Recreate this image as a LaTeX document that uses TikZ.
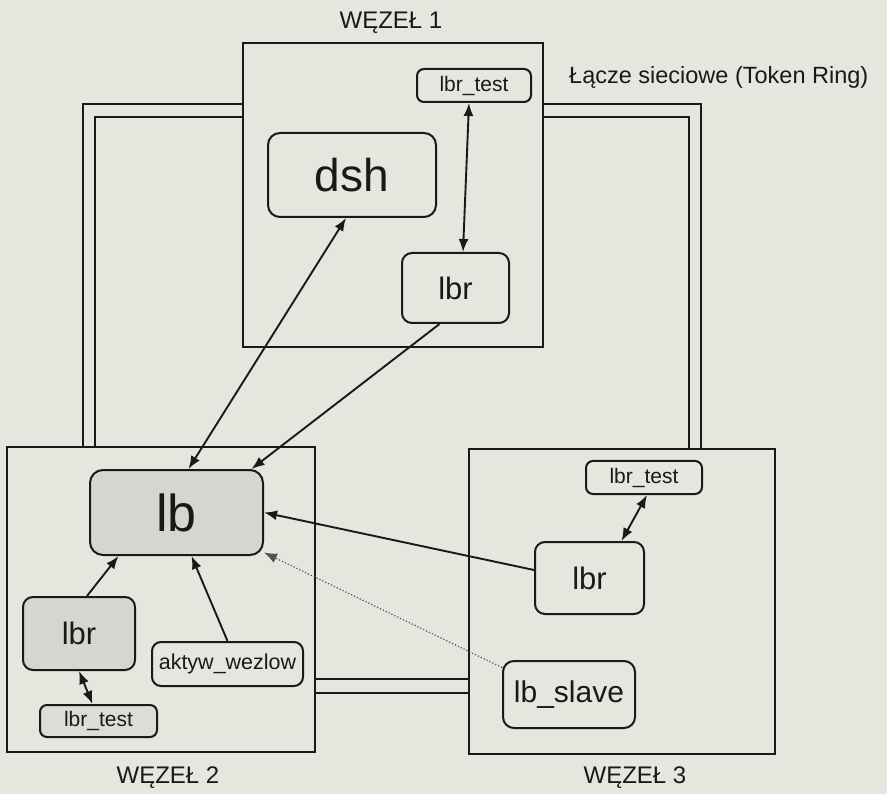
\documentclass[tikz,border=0pt]{standalone}
\usepackage{fontspec}
\setmainfont{Liberation Sans}
\usetikzlibrary{arrows.meta}
\definecolor{paper}{RGB}{227,231,221}
\definecolor{ink}{RGB}{24,26,24}
\definecolor{halftone}{RGB}{212,215,207}
\definecolor{halftonelight}{RGB}{219,222,214}
\newcommand{\fsz}[1]{\fontsize{#1}{#1}\selectfont}
\begin{document}
\begin{tikzpicture}[x=1pt,y=-1pt,
  proc/.style={draw=ink, line width=2pt, rounded corners=9pt, inner sep=0pt, text=ink},
  host/.style={draw=ink, line width=2pt, inner sep=0pt},
  link/.style={draw=ink, line width=1.9pt},
  arr/.style={draw=ink, line width=1.9pt, -{Latex[length=13pt,width=10pt]}},
  barr/.style={draw=ink, line width=1.9pt, {Latex[length=13pt,width=10pt]}-{Latex[length=13pt,width=10pt]}},
  dotarr/.style={draw=ink!75, line width=1.2pt, dotted, -{Latex[length=13pt,width=10pt]}},
  lbl/.style={text=ink, inner sep=0pt}]
\fill[paper] (0,0) rectangle (887,794);
\useasboundingbox (0,0) rectangle (887,794);

% host boxes
\node[host, minimum width=300pt, minimum height=304pt] (n1) at (393,195) {};
\node[host, minimum width=308pt, minimum height=305pt] (n2) at (161,599.5) {};
\node[host, minimum width=306pt, minimum height=305pt] (n3) at (622,601.5) {};

% labels
\node[lbl, font=\fsz{24}] (w1) at (391,23) {WĘZEŁ 1};
\node[lbl, font=\fsz{24}] (w2) at (168,778) {WĘZEŁ 2};
\node[lbl, font=\fsz{24}] (w3) at (635,778) {WĘZEŁ 3};
\node[lbl, font=\fsz{23.5}, anchor=base west] (ring) at (569,84) {Łącze sieciowe (Token Ring)};

% network link (double lines)
\draw[link] (n1.west |- 0,104) -- (83,104) -- (n2.north -| 83,0);
\draw[link] (n1.west |- 0,117) -- (95,117) -- (n2.north -| 95,0);
\draw[link] (n1.east |- 0,104) -- (701,104) -- (n3.north -| 701,0);
\draw[link] (n1.east |- 0,117) -- (689,117) -- (n3.north -| 689,0);
\draw[link] (n2.east |- 0,679) -- (n3.west |- 0,679);
\draw[link] (n2.east |- 0,693) -- (n3.west |- 0,693);

% node 1 processes
\node[proc, rounded corners=7pt, minimum width=114pt, minimum height=33pt, font=\fsz{21}] (lbrtA) at (474,85.5) {lbr\_test};
\node[proc, rounded corners=12pt, minimum width=168pt, minimum height=84pt, font=\fsz{46}] (dsh) at (352,175) {dsh};
\node[proc, rounded corners=10pt, minimum width=107pt, minimum height=70pt, font=\fsz{31}] (lbrA) at (455.5,288) {lbr};

% node 2 processes
\node[proc, fill=halftone, rounded corners=13pt, minimum width=173pt, minimum height=85pt, font=\fsz{52}] (lb) at (176.5,512.5) {lb};
\node[proc, fill=halftone, rounded corners=10pt, minimum width=112pt, minimum height=73pt, font=\fsz{31}] (lbrB) at (79,633.5) {lbr};
\node[proc, fill=halftonelight, rounded corners=7pt, minimum width=117pt, minimum height=32pt, font=\fsz{21}] (lbrtB) at (98.5,721) {lbr\_test};
\node[proc, rounded corners=9pt, minimum width=151pt, minimum height=44pt, font=\fsz{21.5}] (akt) at (227.5,664) {aktyw\_wezlow};

% node 3 processes
\node[proc, rounded corners=7pt, minimum width=116pt, minimum height=33pt, font=\fsz{21}] (lbrtC) at (644,477.5) {lbr\_test};
\node[proc, rounded corners=10pt, minimum width=109pt, minimum height=72pt, font=\fsz{31}] (lbrC) at (589.5,578) {lbr};
\node[proc, rounded corners=11pt, minimum width=132pt, minimum height=67pt, font=\fsz{30}] (lbs) at (569,694.5) {lb\_slave};

% connectors
\draw[barr] ([xshift=-5pt]lbrtA.south) -- ([xshift=7.5pt]lbrA.north);
\draw[barr] ([xshift=12pt]lb.north) -- ([xshift=-6pt]dsh.south);
\draw[arr] ([xshift=-16pt]lbrA.south) -- ([xshift=75pt]lb.north);
\draw[arr] ([yshift=8pt]lbrC.west) -- (lb.east);
\draw[dotarr] ([yshift=27pt]lbs.west) -- ([yshift=-40pt]lb.east);
\draw[arr] ([xshift=8pt]lbrB.north) -- ([xshift=-58pt]lb.south);
\draw[arr] (akt.north) -- ([xshift=15pt]lb.south);
\draw[barr] (lbrB.south) -- ([xshift=-6pt]lbrtB.north);
\draw[barr] ([xshift=32pt]lbrC.north) -- ([xshift=3pt]lbrtC.south);
\end{tikzpicture}
\end{document}
